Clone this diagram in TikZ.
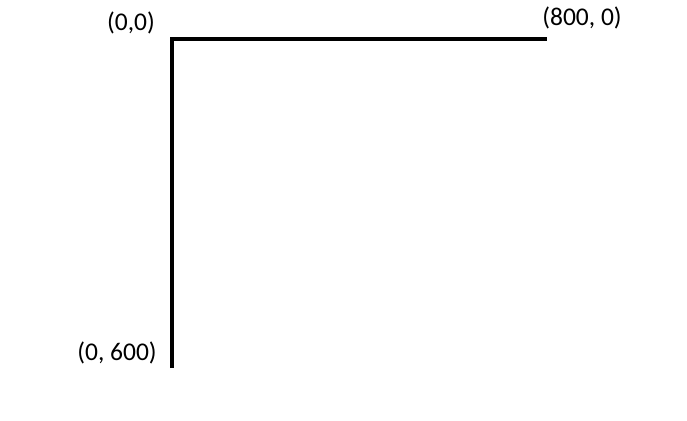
\documentclass[tikz,border=0pt]{standalone}
\usepackage{fontspec}
\setmainfont{Carlito}
\usepackage{tikz}
\usetikzlibrary{positioning}

\begin{document}
\begin{tikzpicture}[x=1pt, y=-1pt, line width=4.5pt]
        % Definición de estilos para las etiquetas
        \tikzstyle{coordlabel} = [inner sep=0pt, anchor=center, font=\fontsize{25.5}{30}\selectfont]
        \useasboundingbox (0,0) rectangle (687,420);

        % Nodes
        \node at (172,39) [coordinate] (origin){};
        \node [coordinate, on grid, right=375pt of origin] (rightEnd){};
        \node [coordinate, on grid, below=329pt of origin] (bottomEnd){};
        \node at (131,23) [coordlabel] (labelOrigin) {(0,0)};
        \node at (582,18) [coordlabel] (labelRight) {(800, 0)};
        \node at (117,353) [coordlabel] (labelBottom) {(0, 600)};

        % Lines
        \draw [-] (bottomEnd) -- (origin) -- (rightEnd);

\end{tikzpicture}
\end{document}
